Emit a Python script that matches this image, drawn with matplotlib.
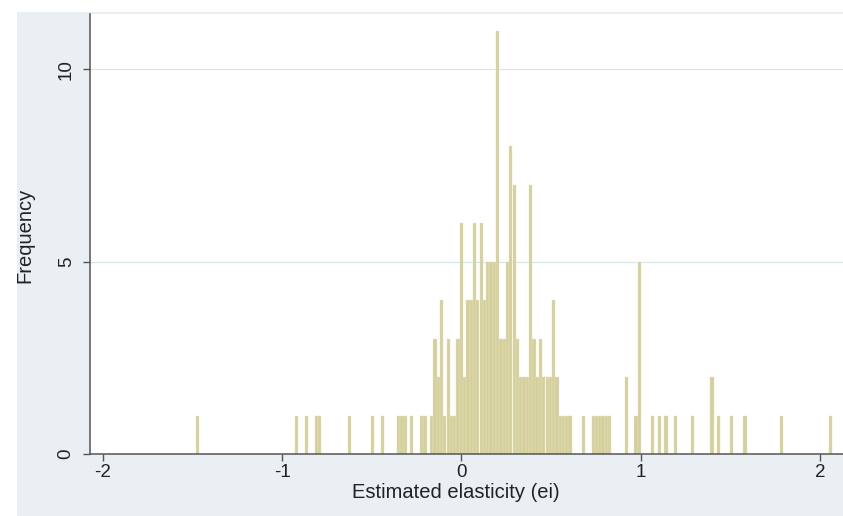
import numpy as np
import matplotlib
matplotlib.use('Agg')
matplotlib.rcParams['axes.unicode_minus'] = False  # 使用普通连字符作负号
matplotlib.rcParams['font.family'] = ['Liberation Sans', 'DejaVu Sans']
from matplotlib import pyplot as plt
from matplotlib.patches import Rectangle

# 数据: 直方图各分组中心 (估计弹性) 与频数
bin_width = 0.0184
bin_center = [-1.473, -0.921, -0.866, -0.810, -0.792, -0.626, -0.498, -0.442,
              -0.350, -0.332, -0.314, -0.277, -0.222, -0.203, -0.166, -0.148,
              -0.130, -0.111, -0.093, -0.074, -0.056, -0.038, -0.019, -0.001,
              0.018, 0.036, 0.054, 0.073, 0.091, 0.110, 0.128, 0.146,
              0.165, 0.183, 0.202, 0.220, 0.238, 0.257, 0.275, 0.294,
              0.312, 0.330, 0.349, 0.367, 0.386, 0.404, 0.422, 0.441,
              0.459, 0.478, 0.496, 0.514, 0.533, 0.551, 0.570, 0.588,
              0.606, 0.680, 0.735, 0.754, 0.772, 0.790, 0.809, 0.827,
              0.919, 0.974, 0.993, 1.066, 1.103, 1.140, 1.195, 1.287,
              1.398, 1.434, 1.508, 1.582, 1.784, 2.060]
frequency = [1, 1, 1, 1, 1, 1, 1, 1,
             1, 1, 1, 1, 1, 1, 1, 3,
             2, 4, 1, 3, 1, 1, 3, 6,
             2, 4, 4, 6, 4, 6, 4, 5,
             5, 5, 11, 3, 3, 5, 8, 7,
             3, 2, 2, 2, 7, 3, 2, 3,
             2, 2, 2, 4, 2, 1, 1, 1,
             1, 1, 1, 1, 1, 1, 1, 1,
             2, 1, 5, 1, 1, 1, 1, 1,
             2, 1, 1, 1, 1, 1]
x_ticks = [-2, -1, 0, 1, 2]
y_ticks = [0, 5, 10]

W, H = 843, 516
fig = plt.figure(figsize=(W / 100, H / 100), dpi=100)
fig.patch.set_facecolor('white')
# Stata 风格的外部背景
fig.patches.append(Rectangle((17 / W, 0), 1 - 17 / W, 1 - 12 / H, transform=fig.transFigure,
                             facecolor='#e9eff2', edgecolor='none', zorder=-5))

ax = fig.add_axes([90 / W, 1 - 454 / H, 1 - 90 / W, (454 - 14) / H])
ax.set_zorder(2)
ax.set_facecolor('white')
ax.bar(bin_center, frequency, width=bin_width, color='#d5d09b', edgecolor='#e6e3c4',
       linewidth=0.3, zorder=2)

ax.set_xlim(-2.072, 2.128)
ax.set_ylim(0, 11.44)
ax.set_xticks(x_ticks)
ax.set_yticks(y_ticks)
ax.set_yticklabels([str(t) for t in y_ticks], rotation=90, va='center')
for y in y_ticks[1:]:
    ax.axhline(y, color='#d8e6ea', linewidth=0.9, zorder=1)

for s in ['top', 'right']:
    ax.spines[s].set_visible(False)
for s in ['left', 'bottom']:
    ax.spines[s].set_color('#555555')
    ax.spines[s].set_linewidth(1.1)
ax.tick_params(axis='both', length=5, width=1, color='#555555', labelsize=13.5,
               labelcolor='#222222', pad=2)
ax.tick_params(axis='y', pad=6)

fig.text(456 / W, 1 - 493 / H, 'Estimated elasticity (ei)', ha='center', va='center',
         fontsize=14.5, color='#222222')
fig.text(25 / W, 1 - 235 / H, 'Frequency', ha='center', va='center', rotation=90,
         fontsize=14.5, color='#222222')

plt.savefig('out.png', dpi=100, facecolor=fig.get_facecolor())
plt.close()
